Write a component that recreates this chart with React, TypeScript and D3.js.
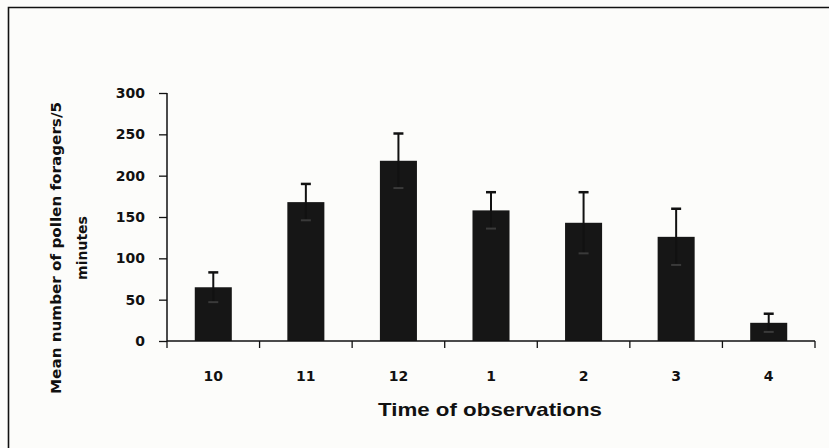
import React, { useEffect, useRef } from 'react';
import * as d3 from 'd3';

// data
const categories = ['10', '11', '12', '1', '2', '3', '4'];
const means = [65, 168, 218, 158, 143, 126, 22];
const errors = [18, 22, 33, 22, 37, 34, 11];
const yTicks = [0, 50, 100, 150, 200, 250, 300];

const BarChart = () => {
  const svgRef = useRef<SVGSVGElement>(null);

  useEffect(() => {
    const svg = d3.select(svgRef.current);
    const width = 829;
    const height = 448;
    const margin = { top: 93, left: 167, right: 14, bottom: 107 };
    const innerWidth = width - margin.left - margin.right;
    const innerHeight = height - margin.top - margin.bottom;

    const data = categories.map((c, i) => ({ cat: c, mean: means[i], err: errors[i] }));

    // background + frame
    svg.append('rect').attr('width', width).attr('height', height).attr('fill', '#fcfcfa');
    svg
      .append('path')
      .attr('d', `M8.5,${height} V7.5 H${width}`)
      .attr('fill', 'none')
      .attr('stroke', '#111')
      .attr('stroke-width', 1.6);

    const g = svg.append('g').attr('transform', `translate(${margin.left},${margin.top})`);

    const x = d3.scaleBand().domain(categories).range([0, innerWidth]).padding(0);
    const y = d3.scaleLinear().domain([0, 300]).range([innerHeight, 0]);
    const barW = x.bandwidth() * 0.4;

    // bars
    g.selectAll('rect.bar')
      .data(data)
      .enter()
      .append('rect')
      .attr('class', 'bar')
      .attr('x', (d) => x(d.cat)! + (x.bandwidth() - barW) / 2)
      .attr('y', (d) => y(d.mean))
      .attr('width', barW)
      .attr('height', (d) => y(0) - y(d.mean))
      .attr('fill', '#161616');

    // error bars
    const eb = g.selectAll('g.err').data(data).enter().append('g').attr('class', 'err');
    const cx = (d) => x(d.cat)! + x.bandwidth() / 2;
    eb.append('line')
      .attr('x1', cx)
      .attr('x2', cx)
      .attr('y1', (d) => y(d.mean + d.err))
      .attr('y2', (d) => y(d.mean - d.err))
      .attr('stroke', '#111')
      .attr('stroke-width', 2);
    eb.append('line')
      .attr('x1', (d) => cx(d) - 5)
      .attr('x2', (d) => cx(d) + 5)
      .attr('y1', (d) => y(d.mean + d.err))
      .attr('y2', (d) => y(d.mean + d.err))
      .attr('stroke', '#111')
      .attr('stroke-width', 2.5);
    eb.append('line')
      .attr('x1', (d) => cx(d) - 5)
      .attr('x2', (d) => cx(d) + 5)
      .attr('y1', (d) => y(d.mean - d.err))
      .attr('y2', (d) => y(d.mean - d.err))
      .attr('stroke', '#3a3a3a')
      .attr('stroke-width', 2);

    // y axis
    const yAxis = d3.axisLeft(y).tickValues(yTicks).tickSize(8).tickPadding(14);
    const ya = g.append('g').call(yAxis);
    ya.select('.domain').attr('stroke', '#111').attr('stroke-width', 1.5).attr('d', `M0,${y(300)}V${y(0)}`);
    ya.selectAll('.tick line').attr('stroke', '#111').attr('stroke-width', 1.3);
    ya.selectAll('.tick text')
      .attr('font-family', '"DejaVu Sans", Verdana, sans-serif')
      .attr('font-weight', 'bold')
      .attr('font-size', 14)
      .attr('fill', '#111');

    // x axis with ticks at band edges
    const xa = g.append('g').attr('transform', `translate(0,${innerHeight})`);
    xa.append('line')
      .attr('x1', 0)
      .attr('x2', innerWidth)
      .attr('stroke', '#111')
      .attr('stroke-width', 1.5);
    xa.selectAll('line.tk')
      .data(d3.range(categories.length + 1))
      .enter()
      .append('line')
      .attr('class', 'tk')
      .attr('x1', (i) => i * x.step())
      .attr('x2', (i) => i * x.step())
      .attr('y1', 0)
      .attr('y2', 7)
      .attr('stroke', '#111')
      .attr('stroke-width', 1.3);
    xa.selectAll('text')
      .data(categories)
      .enter()
      .append('text')
      .attr('x', (d) => x(d)! + x.bandwidth() / 2)
      .attr('y', 40)
      .attr('text-anchor', 'middle')
      .attr('font-family', '"DejaVu Sans", Verdana, sans-serif')
      .attr('font-weight', 'bold')
      .attr('font-size', 14)
      .attr('fill', '#111')
      .text((d) => d);

    // axis titles
    svg
      .append('text')
      .attr('x', 490)
      .attr('y', 416)
      .attr('text-anchor', 'middle')
      .attr('font-family', '"Liberation Sans Narrow", "Liberation Sans", Arial, sans-serif')
      .attr('font-weight', 'bold')
      .attr('font-size', 19)
      .attr('textLength', 224)
      .attr('lengthAdjust', 'spacingAndGlyphs')
      .attr('fill', '#111')
      .text('Time of observations');

    const yTitle = svg
      .append('text')
      .attr('transform', 'translate(0,248) rotate(-90)')
      .attr('text-anchor', 'middle')
      .attr('font-family', '"DejaVu Sans", Verdana, sans-serif')
      .attr('font-weight', 'bold')
      .attr('font-size', 14)
      .attr('fill', '#111');
    yTitle
      .append('tspan')
      .attr('x', 0)
      .attr('y', 61)
      .attr('textLength', 292)
      .attr('lengthAdjust', 'spacingAndGlyphs')
      .text('Mean number of pollen foragers/5');
    yTitle.append('tspan').attr('x', 0).attr('y', 87).text('minutes');

    return () => {
      svg.selectAll('*').remove();
    };
  }, []);

  return <svg ref={svgRef} width={829} height={448} style={{ position: 'absolute', left: 0, top: 0 }}></svg>;
};

export default function App() {
  return <BarChart />;
}
